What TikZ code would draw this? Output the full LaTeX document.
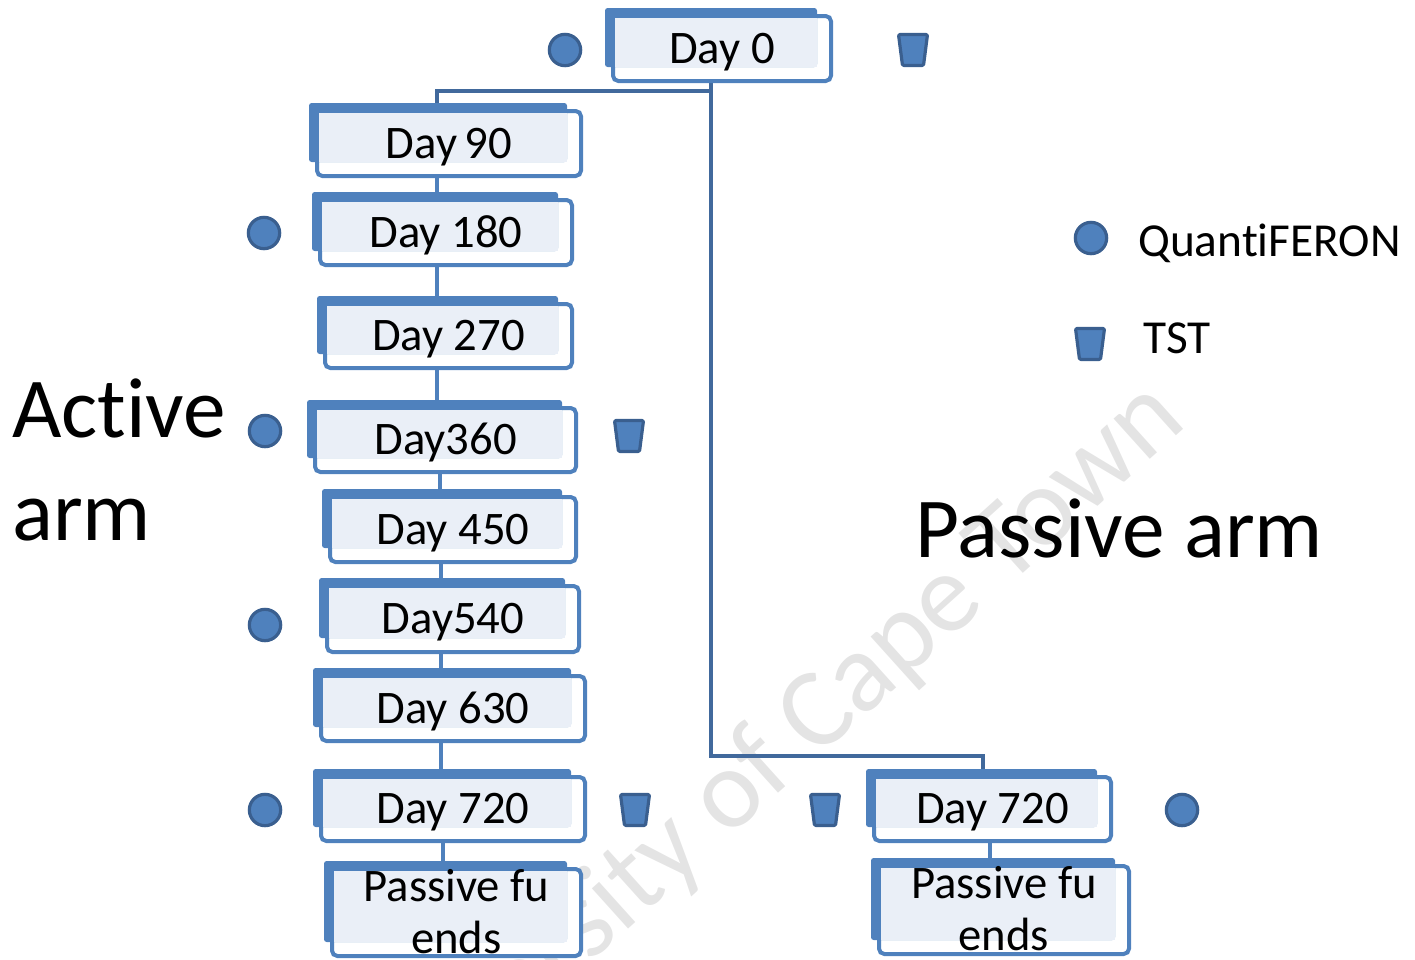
\documentclass[tikz,border=0pt]{standalone}
\usepackage{fontspec}
\setmainfont{Carlito}[Ligatures=NoCommon]
\usetikzlibrary{calc,backgrounds}
\definecolor{accent}{HTML}{4F81BD}
\definecolor{dkline}{HTML}{41699C}
\definecolor{mkedge}{HTML}{3A5F8F}
\definecolor{lightfill}{HTML}{EAEFF7}
\definecolor{wmgray}{HTML}{E4E4E4}
\tikzset{
  x=0.75pt, y=-0.75pt,
  bfront/.style={draw=accent, fill=white, line width=3pt, rounded corners=4pt},
  bback/.style={fill=accent, rounded corners=2pt},
  blight/.style={fill=lightfill},
  boxnode/.style={inner sep=0pt, font=\fontsize{35}{39}\selectfont, text height=22.1pt, text depth=0pt},
  twoline/.style={text depth=39pt},
  mconn/.style={draw=dkline, line width=3pt},
  lconn/.style={draw=accent, line width=3pt},
  qft/.style={circle, fill=accent, draw=mkedge, line width=2.4pt, minimum size=23.5pt, inner sep=0pt},
  tstshape/.style={fill=accent, draw=mkedge, line width=2.4pt, line join=round, rounded corners=1pt},
  tst/.pic={\path[tstshape] (-14.5,-15.5) -- (14.5,-15.5) -- (10.5,15.5) -- (-10.5,15.5) -- cycle;},
  legtext/.style={inner sep=0pt, font=\fontsize{35.5}{39}\selectfont},
  bigtext/.style={inner sep=0pt, font=\fontsize{64}{70}\selectfont},
  wmark/.style={inner sep=0pt, text=wmgray, font=\fontsize{85}{90}\selectfont},
}
\newcommand\dbox[7]{%
  \draw[bfront] ({#2+2},{#3+2}) rectangle ({#4-2},{#5-2});
  \fill[bback] ({#2-6},{#3-6}) rectangle ({#4-16},{#5-16});
  \fill[blight] ({#2+4},{#3+4}) rectangle ({#4-16},{#5-16});
  \node[boxnode, minimum width={(#4-#2)*0.75pt}, minimum height={(#5-#3)*0.75pt}, #7] (#1) at ({(#2+#4)/2},{(#3+#5)/2}) {#6};
}
\begin{document}
\begin{tikzpicture}
\useasboundingbox (0,0) rectangle (1415,960);

% boxes
\dbox{d0}{611}{14}{833}{83}{Day 0}{}
\dbox{d90}{315}{109}{583}{178}{Day\,90}{}
\dbox{d180}{318}{198}{574}{267}{Day 180}{}
\dbox{d270}{323}{302}{574}{370}{Day 270}{}
\dbox{d360}{313}{406}{578}{474}{Day360}{}
\dbox{d450}{328}{495}{578}{564}{Day 450}{}
\dbox{d540}{325}{584}{581}{654}{Day540}{}
\dbox{d630}{319}{674}{587}{743}{Day 630}{}
\dbox{d720a}{319}{775}{587}{843}{Day 720}{}
\dbox{pfa}{330}{867}{583}{958}{\begin{tabular}[t]{@{}c@{}}Passive fu\\ends\end{tabular}}{twoline}
\dbox{d720p}{872}{775}{1113}{843}{Day 720}{}
\dbox{pfp}{877}{864}{1131}{956}{\begin{tabular}[t]{@{}c@{}}Passive fu\\ends\end{tabular}}{twoline}

% QuantiFERON markers
\node[qft] (q0) at (565,50) {};
\node[qft] (q180) at (264,233) {};
\node[qft] (q360) at (265,431) {};
\node[qft] (q540) at (265,625) {};
\node[qft] (q720a) at (265,810) {};
\node[qft] (q720p) at (1182,810) {};
\node[qft] (qleg) at (1091,238) {};

% TST markers
\pic (t0) at (913,50) {tst};
\pic (t360) at (629,436) {tst};
\pic (t720a) at (635,810) {tst};
\pic (t720p) at (825,810) {tst};
\pic (tleg) at (1090,344) {tst};

% texts
\node[legtext, anchor=base west] (lq) at (1138,256) {QuantiFERON};
\node[legtext, anchor=base west] (lt) at (1143,353) {TST};
\node[bigtext, anchor=base west] (act1) at (12,437) {Active};
\node[bigtext, anchor=base west] (act2) at (12,540) {arm};
\node[bigtext, anchor=base west] (pas) at (915,557) {Passive arm};

% junction coordinates
\coordinate (jc) at (711,91);
\coordinate (jl) at (437,91);
\coordinate (jb) at (711,756);
\coordinate (jr) at (983,756);
\coordinate (la) at (437,0);
\coordinate (lb) at (440,0);
\coordinate (lc) at (441,0);
\coordinate (ld) at (443,0);
\coordinate (rr) at (990,0);

\begin{pgfonlayer}{background}
  \begin{scope}
    \clip (0,0) rectangle (1415,960);
    \node[wmark, rotate=42, anchor=base east] (wmk) at (1189,424) {University of Cape Town};
  \end{scope}
  \draw[mconn] (d0.center -| jc) -- (jc) -- (jl) -- (d90.center -| jl);
  \draw[mconn] (jc) -- (jb) -- (jr) -- (d720p.center -| jr);
  \draw[lconn] (d90.center -| la) -- (d180.center -| la);
  \draw[lconn] (d180.center -| la) -- (d270.center -| la);
  \draw[lconn] (d270.center -| la) -- (d360.center -| la);
  \draw[lconn] (d360.center -| lb) -- (d450.center -| lb);
  \draw[lconn] (d450.center -| lc) -- (d540.center -| lc);
  \draw[lconn] (d540.center -| lc) -- (d630.center -| lc);
  \draw[lconn] (d630.center -| lc) -- (d720a.center -| lc);
  \draw[lconn] (d720a.center -| ld) -- (pfa.center -| ld);
  \draw[lconn] (d720p.center -| rr) -- (pfp.center -| rr);
\end{pgfonlayer}
\end{tikzpicture}
\end{document}
